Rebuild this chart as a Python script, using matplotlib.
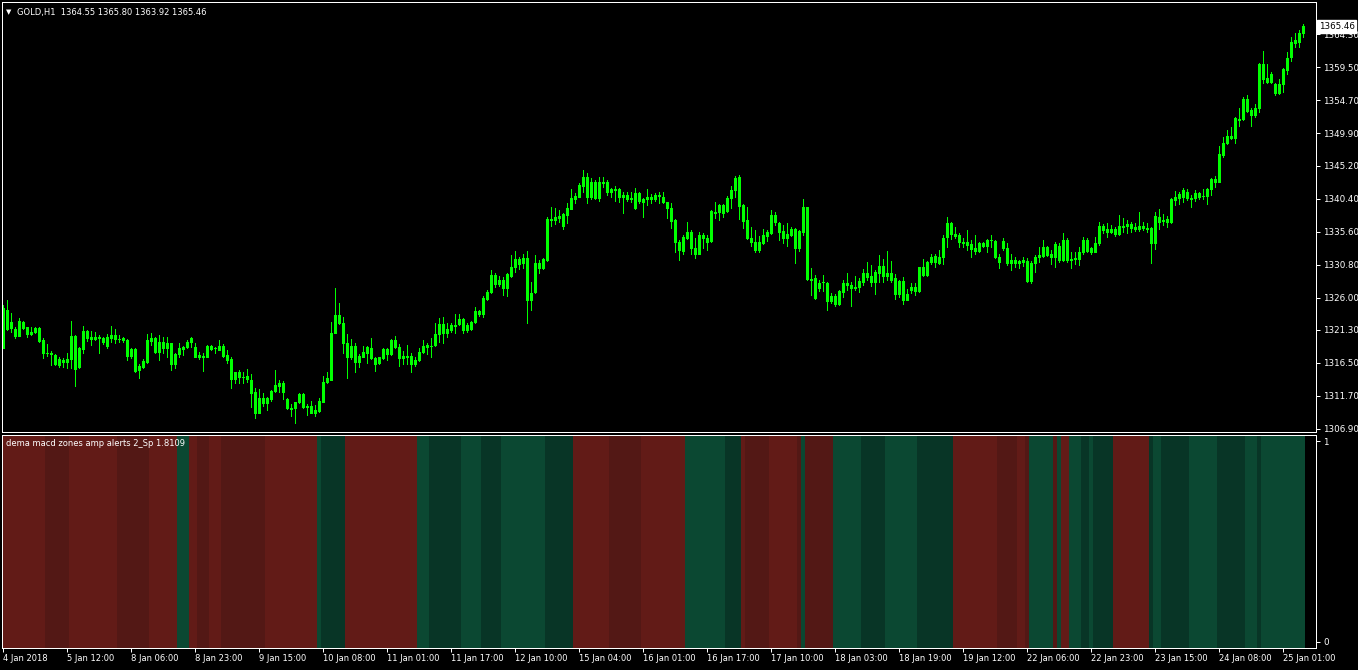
"""GOLD H1 candles with the dema macd zones panel underneath (MT4 look)."""
import numpy as np
import matplotlib.pyplot as plt

# ---- candle data, one value per hourly bar ----
opens = [
    1318.7, 1324.2, 1321.6, 1321.4, 1320.4, 1322.4, 1321.7, 1320.7, 1321.0, 1321.6,
    1319.8, 1317.9, 1317.9, 1317.6, 1316.2, 1316.9, 1316.6, 1317.1, 1320.4, 1315.9,
    1318.5, 1321.1, 1320.3, 1320.0, 1320.1, 1319.5, 1319.0, 1320.1, 1320.6, 1320.0,
    1320.1, 1319.8, 1317.5, 1318.5, 1315.5, 1315.9, 1316.6, 1320.1, 1320.1, 1318.1,
    1319.5, 1318.7, 1319.4, 1316.3, 1317.8, 1318.5, 1318.8, 1319.5, 1318.8, 1317.6,
    1317.5, 1317.4, 1319.0, 1318.7, 1318.4, 1319.0, 1317.6, 1317.1, 1314.2, 1315.2,
    1314.5, 1314.6, 1314.0, 1312.3, 1309.2, 1311.4, 1310.7, 1311.3, 1312.4, 1313.6,
    1313.6, 1311.3, 1309.9, 1309.9, 1310.8, 1312.0, 1310.2, 1310.2, 1309.2, 1309.5,
    1310.8, 1313.7, 1314.0, 1320.8, 1323.5, 1322.3, 1319.4, 1317.4, 1319.0, 1316.6,
    1317.4, 1317.9, 1318.7, 1317.2, 1316.5, 1317.2, 1318.5, 1317.8, 1319.8, 1318.8,
    1317.2, 1317.5, 1317.5, 1316.3, 1316.9, 1318.1, 1319.1, 1319.0, 1319.1, 1320.7,
    1322.1, 1320.8, 1321.3, 1322.0, 1322.1, 1322.9, 1321.3, 1321.4, 1322.4, 1324.0,
    1323.6, 1325.8, 1326.8, 1329.3, 1328.0, 1328.5, 1327.4, 1329.1, 1330.4, 1331.6,
    1331.0, 1331.7, 1325.6, 1326.8, 1331.0, 1330.3, 1331.5, 1337.4, 1337.3, 1337.6,
    1338.2, 1338.0, 1338.9, 1340.3, 1340.6, 1342.2, 1343.5, 1340.6, 1342.8, 1340.5,
    1342.8, 1342.8, 1341.4, 1341.8, 1341.8, 1340.6, 1340.9, 1340.5, 1339.0, 1341.2,
    1339.9, 1340.3, 1340.6, 1340.3, 1340.9, 1340.6, 1339.9, 1339.0, 1337.3, 1332.9,
    1332.7, 1334.6, 1335.5, 1333.2, 1332.4, 1335.1, 1334.6, 1334.2, 1338.4, 1338.4,
    1339.5, 1338.6, 1340.5, 1341.7, 1343.5, 1339.5, 1337.3, 1334.6, 1334.1, 1332.9,
    1333.9, 1334.9, 1335.4, 1338.0, 1336.8, 1335.7, 1334.6, 1335.1, 1336.0, 1333.2,
    1335.5, 1339.2, 1328.7, 1328.8, 1327.4, 1328.3, 1328.1, 1325.5, 1326.2, 1325.1,
    1326.8, 1328.1, 1327.4, 1327.5, 1327.5, 1328.3, 1329.6, 1329.1, 1328.3, 1329.6,
    1330.6, 1329.1, 1329.6, 1328.8, 1326.5, 1328.4, 1325.6, 1327.1, 1327.5, 1326.9,
    1330.4, 1329.3, 1331.2, 1332.0, 1331.0, 1331.9, 1334.8, 1336.8, 1334.9, 1335.1,
    1334.1, 1333.6, 1333.8, 1332.7, 1332.7, 1333.9, 1333.5, 1334.4, 1334.2, 1331.2,
    1333.2, 1333.2, 1331.0, 1331.5, 1331.0, 1331.2, 1331.3, 1328.4, 1331.0, 1331.9,
    1332.0, 1333.3, 1332.3, 1331.9, 1333.5, 1331.5, 1334.4, 1331.6, 1331.6, 1331.6,
    1332.6, 1334.4, 1332.6, 1332.6, 1333.9, 1336.4, 1335.5, 1335.5, 1336.0, 1335.2,
    1336.4, 1336.4, 1336.7, 1336.0, 1336.0, 1336.4, 1336.1, 1336.1, 1333.9, 1337.7,
    1337.3, 1337.4, 1337.0, 1340.2, 1340.5, 1340.6, 1341.4, 1340.5, 1340.5, 1341.2,
    1340.8, 1340.8, 1341.8, 1343.2, 1342.8, 1346.7, 1348.5, 1349.5, 1349.2, 1352.0,
    1352.0, 1354.9, 1353.3, 1352.6, 1353.6, 1360.0, 1357.9, 1357.4, 1357.1, 1355.8,
    1357.1, 1359.1, 1361.0, 1363.0, 1363.2, 1364.55,
]
highs = [
    1324.9, 1325.6, 1323.8, 1321.7, 1323.0, 1322.6, 1321.7, 1321.7, 1321.7, 1321.7,
    1320.1, 1319.2, 1318.2, 1317.8, 1317.4, 1317.2, 1317.9, 1322.6, 1320.6, 1318.8,
    1321.9, 1321.3, 1321.1, 1321.0, 1320.6, 1320.3, 1320.7, 1321.9, 1321.4, 1320.6,
    1320.3, 1320.0, 1318.7, 1318.7, 1316.3, 1317.1, 1320.7, 1320.8, 1320.3, 1320.6,
    1320.3, 1320.3, 1319.4, 1317.9, 1319.4, 1319.0, 1319.8, 1320.3, 1319.4, 1318.1,
    1317.9, 1319.1, 1319.1, 1318.8, 1319.8, 1319.2, 1318.4, 1317.4, 1315.2, 1315.5,
    1315.2, 1315.6, 1314.9, 1312.8, 1312.7, 1312.1, 1311.5, 1312.6, 1315.5, 1314.0,
    1313.9, 1311.4, 1310.5, 1310.8, 1312.1, 1312.1, 1310.5, 1311.0, 1310.4, 1311.4,
    1314.6, 1315.2, 1322.4, 1327.4, 1325.2, 1323.2, 1320.7, 1320.0, 1319.4, 1317.8,
    1319.0, 1319.0, 1320.1, 1317.4, 1317.4, 1318.7, 1318.7, 1320.0, 1320.4, 1319.2,
    1318.2, 1319.1, 1317.9, 1317.4, 1318.7, 1319.8, 1319.4, 1320.1, 1322.3, 1323.0,
    1323.2, 1322.3, 1322.3, 1323.6, 1323.6, 1323.0, 1322.3, 1322.6, 1324.6, 1324.2,
    1326.2, 1327.1, 1330.0, 1329.6, 1329.1, 1329.0, 1329.6, 1332.2, 1332.7, 1331.9,
    1332.4, 1332.7, 1328.3, 1332.2, 1331.5, 1331.7, 1337.7, 1339.2, 1339.0, 1338.7,
    1338.3, 1339.7, 1341.8, 1341.2, 1342.7, 1344.6, 1344.1, 1343.4, 1343.1, 1343.5,
    1343.5, 1343.1, 1341.9, 1342.2, 1341.9, 1341.4, 1341.4, 1341.4, 1341.9, 1341.4,
    1340.5, 1341.8, 1341.1, 1341.2, 1341.4, 1341.4, 1339.9, 1339.7, 1337.4, 1334.4,
    1335.1, 1337.0, 1335.8, 1334.6, 1335.5, 1335.4, 1335.1, 1338.7, 1339.9, 1339.6,
    1339.6, 1340.8, 1342.2, 1343.7, 1343.8, 1339.6, 1339.2, 1336.3, 1335.8, 1334.9,
    1336.0, 1335.8, 1338.7, 1338.4, 1337.0, 1336.5, 1336.8, 1336.3, 1336.1, 1335.8,
    1340.3, 1339.2, 1330.3, 1329.3, 1328.5, 1329.3, 1328.3, 1326.7, 1326.5, 1327.1,
    1328.5, 1329.6, 1328.3, 1329.1, 1328.8, 1330.1, 1331.2, 1330.7, 1330.0, 1332.2,
    1331.6, 1332.7, 1331.3, 1329.4, 1328.5, 1329.0, 1327.2, 1328.1, 1328.1, 1330.4,
    1331.6, 1331.3, 1332.3, 1332.3, 1332.9, 1335.1, 1337.7, 1337.0, 1336.3, 1335.4,
    1334.6, 1335.8, 1334.4, 1335.1, 1334.1, 1334.1, 1334.5, 1335.1, 1334.4, 1332.4,
    1334.6, 1333.9, 1332.3, 1331.9, 1331.5, 1331.9, 1331.7, 1331.3, 1332.2, 1333.3,
    1334.4, 1333.5, 1332.9, 1334.1, 1333.9, 1335.4, 1334.6, 1332.6, 1332.6, 1333.3,
    1334.8, 1334.6, 1333.3, 1334.8, 1337.0, 1336.7, 1336.8, 1336.5, 1336.3, 1338.0,
    1337.6, 1337.3, 1337.0, 1336.8, 1338.4, 1337.0, 1336.8, 1336.3, 1338.4, 1338.9,
    1338.2, 1337.9, 1340.5, 1341.5, 1341.4, 1341.9, 1341.8, 1340.9, 1341.7, 1341.4,
    1341.8, 1341.9, 1343.4, 1343.7, 1348.0, 1349.4, 1350.4, 1350.8, 1352.3, 1353.6,
    1355.2, 1355.5, 1353.6, 1354.2, 1360.1, 1361.9, 1360.0, 1358.8, 1357.2, 1357.8,
    1359.4, 1361.7, 1363.9, 1364.5, 1364.9, 1365.80,
]
lows = [
    1318.7, 1321.3, 1321.0, 1320.1, 1320.4, 1321.4, 1320.3, 1320.6, 1320.8, 1319.5,
    1317.2, 1317.5, 1316.2, 1316.2, 1315.9, 1315.9, 1315.8, 1315.8, 1313.1, 1315.8,
    1317.9, 1319.7, 1319.1, 1319.8, 1317.9, 1319.2, 1318.7, 1319.5, 1319.4, 1319.5,
    1319.5, 1316.9, 1317.2, 1315.2, 1314.3, 1315.8, 1316.5, 1319.1, 1317.9, 1316.9,
    1317.9, 1317.4, 1315.5, 1315.8, 1317.4, 1317.6, 1318.7, 1318.8, 1317.4, 1317.1,
    1315.3, 1317.4, 1318.4, 1317.9, 1318.4, 1317.4, 1316.5, 1312.8, 1313.6, 1313.6,
    1313.6, 1313.7, 1310.1, 1308.5, 1309.2, 1310.2, 1309.7, 1311.0, 1312.3, 1312.3,
    1311.3, 1309.8, 1308.8, 1307.8, 1310.7, 1309.9, 1308.9, 1309.2, 1308.8, 1309.4,
    1310.8, 1313.6, 1314.0, 1320.8, 1322.2, 1317.9, 1314.3, 1317.1, 1315.2, 1315.9,
    1317.4, 1316.5, 1317.1, 1315.3, 1316.3, 1317.1, 1316.9, 1317.6, 1318.7, 1316.1,
    1316.3, 1316.3, 1315.2, 1316.1, 1316.8, 1317.9, 1317.8, 1317.4, 1319.0, 1319.5,
    1319.4, 1320.3, 1321.0, 1320.8, 1322.0, 1320.8, 1321.0, 1321.3, 1322.3, 1323.3,
    1323.2, 1325.6, 1326.7, 1327.5, 1327.7, 1326.4, 1326.2, 1329.0, 1329.7, 1330.1,
    1330.3, 1322.3, 1324.2, 1326.7, 1329.6, 1330.1, 1331.3, 1336.4, 1336.7, 1337.0,
    1336.0, 1336.8, 1338.9, 1339.7, 1340.6, 1341.4, 1339.7, 1340.3, 1340.3, 1340.0,
    1342.1, 1340.9, 1340.6, 1340.0, 1339.9, 1338.3, 1340.0, 1339.9, 1338.9, 1339.7,
    1337.7, 1339.5, 1339.7, 1340.0, 1339.7, 1339.7, 1337.6, 1336.1, 1332.6, 1331.5,
    1332.4, 1334.5, 1332.4, 1331.7, 1332.3, 1333.2, 1332.9, 1334.1, 1337.6, 1337.3,
    1337.7, 1338.4, 1339.0, 1340.6, 1337.4, 1336.1, 1334.5, 1333.5, 1332.6, 1332.6,
    1333.8, 1334.2, 1335.2, 1336.5, 1334.4, 1333.9, 1333.5, 1334.9, 1331.0, 1332.7,
    1335.1, 1328.5, 1326.4, 1325.8, 1326.9, 1326.9, 1324.2, 1325.2, 1324.8, 1324.9,
    1326.1, 1327.1, 1324.8, 1327.1, 1326.8, 1327.8, 1328.5, 1327.7, 1326.5, 1328.3,
    1328.3, 1328.5, 1328.3, 1325.8, 1326.1, 1325.1, 1325.6, 1326.7, 1326.4, 1326.8,
    1329.1, 1329.1, 1330.9, 1330.4, 1330.9, 1330.9, 1333.3, 1334.5, 1334.6, 1333.3,
    1333.3, 1332.9, 1331.9, 1332.4, 1332.6, 1333.3, 1332.6, 1333.3, 1331.7, 1330.3,
    1332.9, 1330.7, 1330.0, 1330.4, 1330.3, 1330.6, 1328.3, 1328.1, 1329.7, 1331.2,
    1331.9, 1332.0, 1330.9, 1330.4, 1331.2, 1331.3, 1331.2, 1330.3, 1330.9, 1330.7,
    1332.3, 1332.6, 1332.3, 1332.6, 1333.6, 1335.4, 1334.8, 1335.4, 1334.9, 1335.1,
    1335.5, 1335.4, 1335.5, 1335.7, 1335.7, 1335.8, 1335.5, 1331.0, 1333.1, 1336.0,
    1336.5, 1336.3, 1336.8, 1339.5, 1339.6, 1339.9, 1340.2, 1339.2, 1340.0, 1340.3,
    1340.3, 1339.6, 1340.9, 1342.1, 1342.8, 1346.4, 1348.3, 1349.1, 1348.5, 1350.9,
    1351.8, 1353.0, 1350.9, 1352.3, 1353.0, 1357.2, 1357.2, 1357.2, 1355.5, 1355.6,
    1355.9, 1358.5, 1360.4, 1362.5, 1362.5, 1363.92,
]
closes = [
    1324.5, 1321.4, 1322.4, 1320.4, 1322.6, 1321.6, 1320.7, 1321.0, 1321.6, 1319.7,
    1317.9, 1317.9, 1317.8, 1316.3, 1317.1, 1316.6, 1317.1, 1320.4, 1315.6, 1318.7,
    1321.1, 1320.1, 1320.0, 1320.3, 1320.2, 1320.1, 1320.3, 1320.6, 1320.0, 1319.9,
    1319.8, 1317.5, 1318.5, 1315.3, 1316.1, 1316.8, 1319.8, 1319.7, 1318.1, 1319.5,
    1318.7, 1319.4, 1316.3, 1317.8, 1318.7, 1318.8, 1319.5, 1320.1, 1317.4, 1317.4,
    1317.4, 1319.0, 1318.5, 1318.6, 1319.0, 1317.5, 1316.9, 1314.2, 1315.2, 1314.5,
    1314.4, 1314.2, 1312.1, 1309.2, 1311.4, 1310.7, 1311.4, 1312.4, 1313.3, 1313.1,
    1312.3, 1309.9, 1309.8, 1310.8, 1312.0, 1310.1, 1310.1, 1309.2, 1309.6, 1311.0,
    1313.7, 1314.3, 1320.8, 1323.5, 1322.3, 1319.4, 1317.4, 1319.0, 1316.6, 1317.5,
    1318.1, 1318.8, 1317.2, 1316.3, 1317.4, 1318.5, 1317.8, 1319.8, 1318.8, 1317.2,
    1317.5, 1317.4, 1316.3, 1316.9, 1318.1, 1319.0, 1318.8, 1318.9, 1320.7, 1322.1,
    1320.8, 1321.4, 1322.0, 1321.9, 1322.9, 1321.3, 1322.0, 1322.4, 1324.0, 1323.6,
    1325.9, 1326.8, 1329.3, 1328.0, 1328.5, 1327.4, 1329.4, 1330.4, 1331.6, 1330.9,
    1331.7, 1325.6, 1326.7, 1331.0, 1330.3, 1331.6, 1337.4, 1337.3, 1337.7, 1337.9,
    1336.4, 1339.0, 1340.5, 1340.8, 1342.4, 1343.5, 1340.6, 1342.8, 1340.5, 1342.8,
    1342.7, 1341.4, 1341.8, 1341.7, 1340.6, 1340.9, 1340.3, 1340.4, 1341.2, 1340.0,
    1340.3, 1340.6, 1340.3, 1340.9, 1340.8, 1339.9, 1339.0, 1337.1, 1334.1, 1334.1,
    1334.8, 1335.5, 1333.2, 1332.4, 1335.1, 1334.6, 1334.1, 1338.6, 1338.3, 1339.5,
    1338.3, 1340.5, 1341.7, 1343.4, 1339.3, 1337.1, 1334.6, 1334.1, 1332.9, 1334.1,
    1335.1, 1335.5, 1338.0, 1337.0, 1335.5, 1334.6, 1335.2, 1336.0, 1333.2, 1335.7,
    1339.2, 1328.7, 1328.6, 1325.9, 1328.1, 1328.2, 1325.5, 1326.2, 1325.1, 1326.9,
    1328.1, 1327.8, 1327.8, 1327.4, 1328.4, 1329.6, 1329.0, 1328.3, 1329.7, 1330.6,
    1329.1, 1329.6, 1328.5, 1326.5, 1328.4, 1325.6, 1326.5, 1327.5, 1326.9, 1330.4,
    1329.3, 1331.2, 1331.9, 1331.2, 1331.9, 1334.6, 1336.8, 1335.2, 1335.2, 1334.1,
    1334.0, 1334.1, 1333.0, 1333.2, 1333.9, 1333.5, 1334.4, 1334.3, 1331.9, 1331.9,
    1334.2, 1331.0, 1331.5, 1331.0, 1331.3, 1331.5, 1328.4, 1331.0, 1331.9, 1332.2,
    1333.3, 1332.2, 1331.9, 1333.8, 1331.5, 1334.4, 1331.5, 1331.5, 1331.7, 1332.6,
    1334.4, 1332.7, 1333.2, 1333.9, 1336.4, 1335.8, 1336.0, 1336.0, 1335.2, 1336.4,
    1336.3, 1336.7, 1336.1, 1336.3, 1336.4, 1336.1, 1336.0, 1333.9, 1337.9, 1337.0,
    1337.2, 1337.0, 1340.3, 1340.6, 1341.1, 1341.7, 1340.5, 1340.4, 1341.2, 1340.6,
    1340.7, 1341.8, 1343.2, 1342.8, 1346.9, 1348.5, 1349.5, 1349.2, 1352.1, 1351.9,
    1354.9, 1353.1, 1352.6, 1353.6, 1360.0, 1357.8, 1357.4, 1358.5, 1355.8, 1357.1,
    1359.2, 1360.9, 1363.2, 1363.5, 1364.5, 1365.46,
]

# zones panel: 0 red, 1 dark red, 2 green, 3 dark green, stored as runs of bars
zone_states = [0, 1, 0, 1, 0, 2, 0, 1, 0, 1, 0, 2, 3, 0, 2, 3, 2, 3, 2, 3,
               0, 1, 0, 2, 3, 0, 1, 0, 1, 2, 1, 2, 3, 2, 3, 0, 1, 0, 1, 2,
               1, 2, 0, 2, 3, 2, 3, 0, 3, 2, 3, 2, 3, 2, 3, 2]
zone_lengths = [11, 6, 12, 8, 7, 3, 2, 3, 3, 11, 13, 1, 6, 18, 3, 8, 5, 5, 11, 7,
                9, 8, 11, 10, 4, 1, 6, 7, 1, 1, 7, 7, 6, 8, 9, 11, 5, 2, 1, 6,
                1, 1, 2, 3, 2, 1, 5, 9, 1, 2, 7, 7, 7, 3, 1, 11]
zone_colors = ["#621b17", "#531815", "#0b4832", "#083526"]

price_ticks = [1364.30, 1359.50, 1354.70, 1349.90, 1345.20, 1340.40, 1335.60,
               1330.80, 1326.00, 1321.30, 1316.50, 1311.70, 1306.90]
time_labels = ["4 Jan 2018", "5 Jan 12:00", "8 Jan 06:00", "8 Jan 23:00",
               "9 Jan 15:00", "10 Jan 08:00", "11 Jan 01:00", "11 Jan 17:00",
               "12 Jan 10:00", "15 Jan 04:00", "16 Jan 01:00", "16 Jan 17:00",
               "17 Jan 10:00", "18 Jan 03:00", "18 Jan 19:00", "19 Jan 12:00",
               "22 Jan 06:00", "22 Jan 23:00", "23 Jan 15:00", "24 Jan 08:00",
               "25 Jan 01:00"]
label_step = 16  # one time label every 16 bars

LIME = "#00ff00"
W, H = 1358, 670
PX = 0.72  # one pixel in points at 100 dpi

o = np.array(opens)
h = np.array(highs)
l = np.array(lows)
c = np.array(closes)
x = np.arange(len(c))

fig = plt.figure(figsize=(W / 100, H / 100), dpi=100, facecolor="black")
ax = fig.add_axes([2 / W, 238 / H, 1314 / W, 430 / H], facecolor="black")
ax2 = fig.add_axes([2 / W, 22 / H, 1314 / W, 213 / H], facecolor="black", sharex=ax)

# candles: wick first, then body (black = up, white = down)
ax.vlines(x, l, h, color=LIME, lw=PX, antialiased=False)
body_col = np.where(c >= o, "black", "white")
ax.bar(x, np.abs(c - o), bottom=np.minimum(o, c), width=0.5, color=body_col,
       edgecolor=LIME, linewidth=PX, antialiased=False)

ax.set_xlim(-0.33, 328.2)
ax.set_ylim(1306.43, 1369.0)
ax.yaxis.tick_right()
ax.set_yticks(price_ticks)
ax.set_yticklabels([f"{v:.2f}" for v in price_ticks])
ax.tick_params(axis="y", colors="white", labelsize=6.3, length=3, width=PX, pad=2)
ax.tick_params(axis="x", bottom=False, labelbottom=False)
for s in ax.spines.values():
    s.set_color("white")
    s.set_linewidth(PX)

ax.text(4 / 1314, 1 - 10 / 430, "\u25bc", transform=ax.transAxes, color="white",
        fontsize=5, va="center", ha="left")
ax.text(15 / 1314, 1 - 10 / 430,
        f"GOLD,H1  {opens[-1]:.2f} {highs[-1]:.2f} {lows[-1]:.2f} {closes[-1]:.2f}",
        transform=ax.transAxes, color="white", fontsize=6.0, va="center", ha="left")

# last price box on the price scale
ax.text(1.002, closes[-1], f"{closes[-1]:.2f}", transform=ax.get_yaxis_transform(),
        color="black", fontsize=6.3, va="center", ha="left",
        bbox=dict(boxstyle="square,pad=0.2", facecolor="white", edgecolor="white"))

# zones panel
states = np.repeat(zone_states, zone_lengths)
lo, hi = -0.03, 1.03
ax2.bar(x, hi - lo, bottom=lo, width=1.0, color=[zone_colors[s] for s in states],
        linewidth=0, antialiased=False)
ax2.set_ylim(lo, hi)
ax2.yaxis.tick_right()
ax2.set_yticks([0, 1])
ax2.set_yticklabels(["0", "1"])
ax2.tick_params(axis="y", colors="white", labelsize=6.3, length=3, width=PX, pad=2)
ax2.set_xticks(np.arange(len(time_labels)) * label_step)
ax2.set_xticklabels(time_labels, ha="left")
ax2.tick_params(axis="x", colors="white", labelsize=6.0, length=3, width=PX, pad=1)
for s in ax2.spines.values():
    s.set_color("white")
    s.set_linewidth(PX)
ax2.text(4 / 1314, 1 - 8 / 213, "dema macd zones amp alerts 2_Sp 1.8109",
         transform=ax2.transAxes, color="white", fontsize=6.0, va="center", ha="left")

fig.savefig("out.png", dpi=100, facecolor="black")
